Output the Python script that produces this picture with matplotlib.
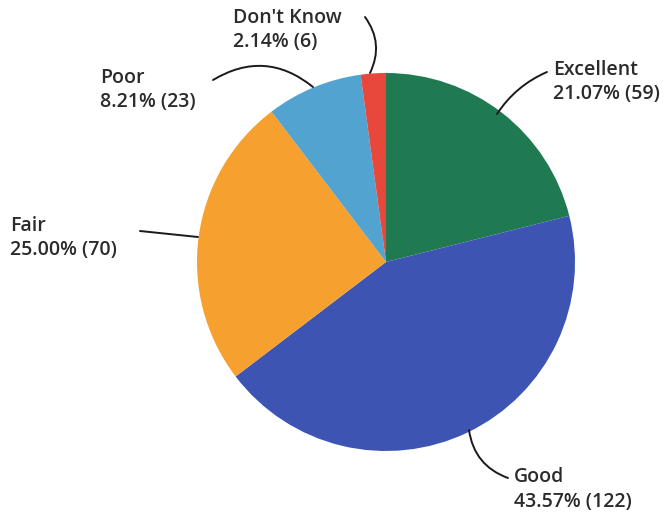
import matplotlib.pyplot as plt

labels = ["Excellent", "Good", "Fair", "Poor", "Don't Know"]
counts = [59, 122, 70, 23, 6]
percents = [21.07, 43.57, 25.00, 8.21, 2.14]
colors = ["#1f7a52", "#3d54b3", "#f6a02f", "#52a3d0", "#e8473b"]

W, H = 671, 517
fig = plt.figure(figsize=(W / 100, H / 100), dpi=100)
ax = fig.add_axes([0, 0, 1, 1])

cx, cy, r = 386, H - 262, 189
wedges, _ = ax.pie(counts, colors=colors, startangle=90, counterclock=False,
                   center=(cx, cy), radius=r, frame=True,
                   wedgeprops=dict(linewidth=0))
ax.set_xlim(0, W)
ax.set_ylim(0, H)
ax.set_aspect("equal")
ax.axis("off")

# text anchor (top-left, px), line start (px), line end on pie (px), curvature
place = {
    "Excellent": ((553, 60), (547, 72), (497, 114), 0.15),
    "Good": ((514, 467), (508, 478), (469, 430), -0.3),
    "Fair": ((10, 216), (140, 231), (198, 237), 0.0),
    "Poor": ((100, 68), (213, 80), (313, 87), -0.35),
    "Don't Know": ((233, 8), (365, 17), (370, 73), -0.3),
}

for lab, n, p in zip(labels, counts, percents):
    (tx, ty), (sx, sy), (ex, ey), rad = place[lab]
    ax.text(tx, H - ty, f"{lab}\n{p:.2f}% ({n})", ha="left", va="top",
            fontsize=14, fontweight="semibold", family="Open Sans",
            color="#2b2b2b", linespacing=1.3)
    ax.annotate("", xy=(ex, H - ey), xytext=(sx, H - sy),
                arrowprops=dict(arrowstyle="-", color="#1a1a1a", lw=1.4,
                                connectionstyle=f"arc3,rad={rad}",
                                shrinkA=0, shrinkB=0))

fig.savefig("out.png", dpi=100)
